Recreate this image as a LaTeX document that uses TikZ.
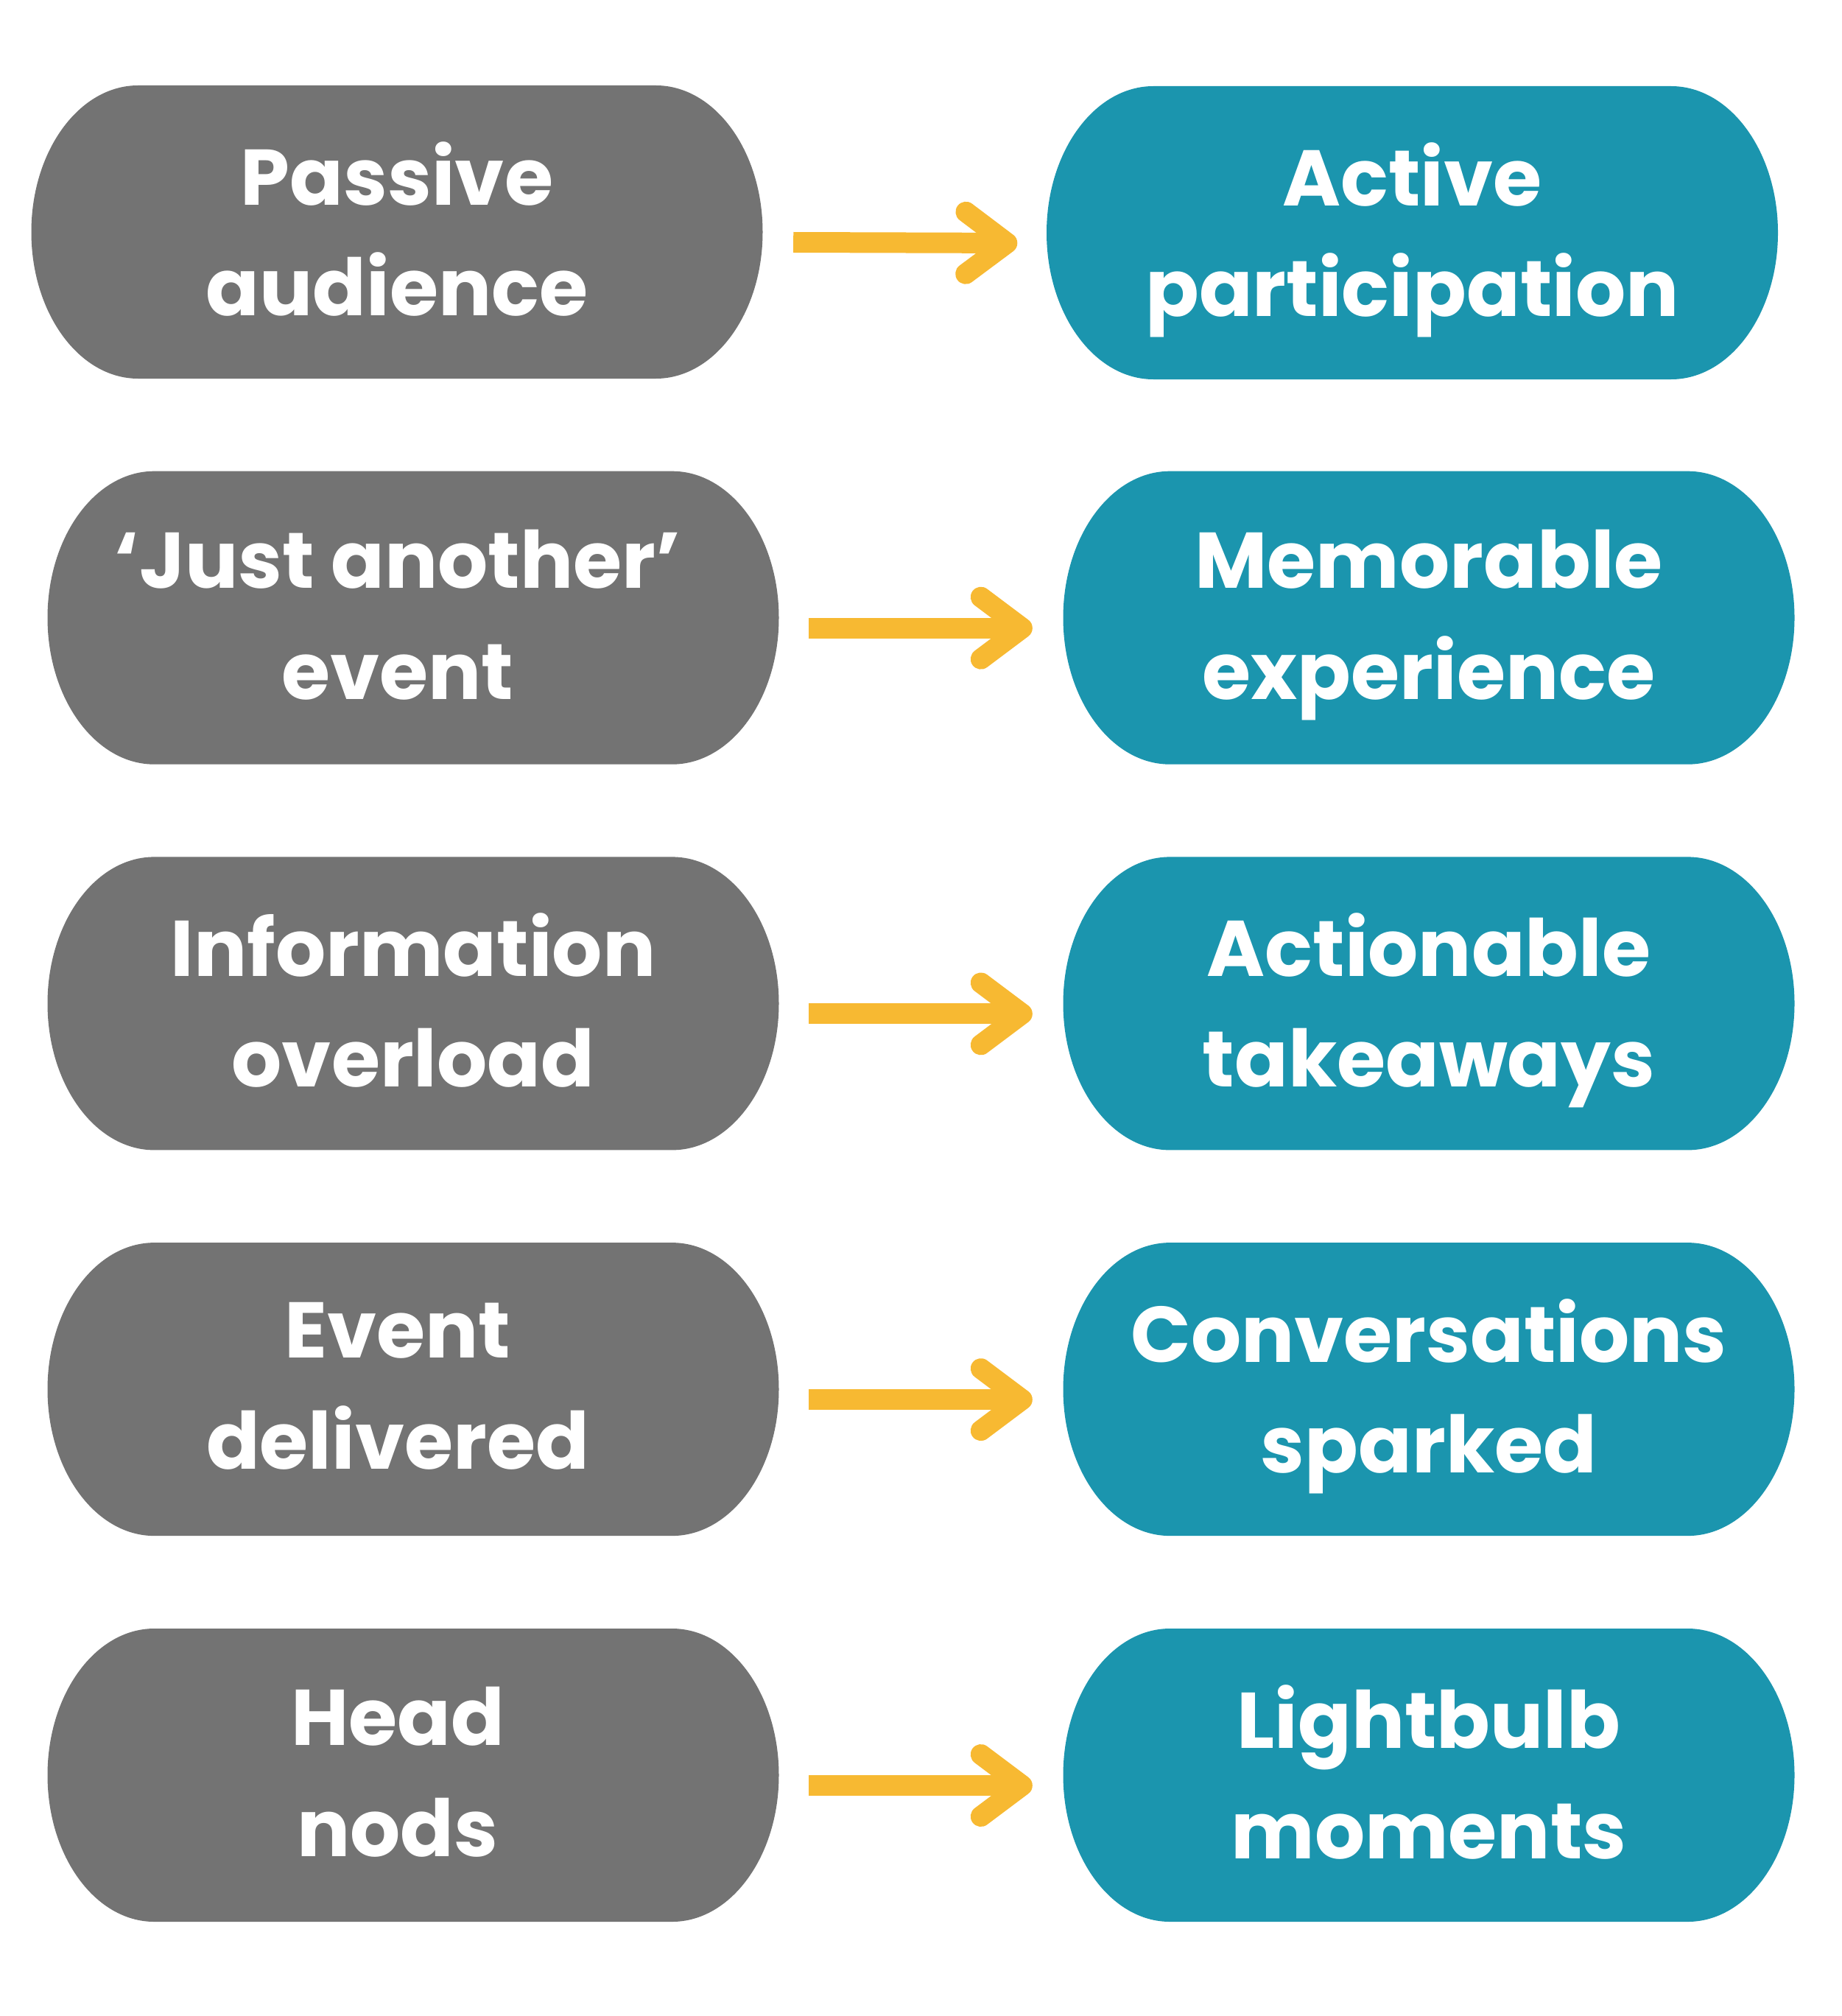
\documentclass[tikz,border=0pt]{standalone}
\usepackage{fontspec}
\setsansfont{Poppins}
\usepackage{tikz}
\usetikzlibrary{arrows.meta,positioning,calc}
\definecolor{boxgray}{HTML}{737373}
\definecolor{boxteal}{HTML}{1B95AE}
\definecolor{arrowyellow}{HTML}{F7B932}
\tikzset{
  pill/.style={fill=white, inner sep=0pt, minimum width=9.93cm, minimum height=3.98cm,
    path picture={\fill[#1] (path picture bounding box.west)
      arc[start angle=180, end angle=90, x radius=1.45cm, y radius=1.99cm]
      -- ([xshift=-1.45cm]path picture bounding box.north east)
      arc[start angle=90, end angle=-90, x radius=1.45cm, y radius=1.99cm]
      -- ([xshift=1.45cm]path picture bounding box.south west)
      arc[start angle=270, end angle=180, x radius=1.45cm, y radius=1.99cm] -- cycle;}},
  lbl/.style={text=white, align=center, inner sep=0pt, font=\sffamily\bfseries\fontsize{30.5}{42.8}\selectfont,
    execute at begin node=\strut, execute at end node=\strut},
  arrow/.style={-{Straight Barb[length=5.6mm,width=8.4mm,round]}, line width=2.8mm, draw=arrowyellow}
}
\begin{document}
\begin{tikzpicture}
\useasboundingbox (0,0) rectangle (25,-27.37);
% ---- left column ----
\node[pill=boxgray] (l1) at (5.39,-3.15) {};
\node[pill=boxgray] (l2) at (5.61,-8.387) {};
\node[pill=boxgray] (l3) at (5.61,-13.624) {};
\node[pill=boxgray] (l4) at (5.61,-18.861) {};
\node[pill=boxgray] (l5) at (5.61,-24.10) {};
\node[lbl] (l1t) at ([yshift=-1.8mm]l1.center) {Passive\\audience};
\node[lbl] (l2t) at ([shift={(-0.21,-0.18)}]l2.center) {‘Just another’\\event};
\node[lbl] (l3t) at ([yshift=-1.8mm]l3.center) {Information\\overload};
\node[lbl] (l4t) at ([shift={(-0.21,-0.18)}]l4.center) {Event\\delivered};
\node[lbl] (l5t) at ([shift={(-0.21,-0.18)}]l5.center) {Head\\nods};
% ---- right column ----
\node[pill=boxteal] (r1) at (19.175,-3.16) {};
\node[pill=boxteal] (r2) at (19.40,-8.387) {};
\node[pill=boxteal] (r3) at (19.40,-13.624) {};
\node[pill=boxteal] (r4) at (19.40,-18.861) {};
\node[pill=boxteal] (r5) at (19.40,-24.10) {};
\node[lbl] (r1t) at ([yshift=-1.8mm]r1.center) {Active\\participation};
\node[lbl] (r2t) at ([yshift=-1.8mm]r2.center) {Memorable\\experience};
\node[lbl] (r3t) at ([yshift=-1.8mm]r3.center) {Actionable\\takeaways};
\node[lbl] (r4t) at ([yshift=-1.8mm]r4.center) {Conversations\\sparked};
\node[lbl] (r5t) at ([yshift=-1.8mm]r5.center) {Lightbulb\\moments};
% ---- arrows ----
\draw[arrow] ([shift={(0.41,-0.14)}]l1.east) -- ([shift={(-0.39,-0.14)}]r1.west);
\draw[arrow] ([shift={(0.40,-0.14)}]l2.east) -- ([shift={(-0.41,-0.14)}]r2.west);
\draw[arrow] ([shift={(0.40,-0.14)}]l3.east) -- ([shift={(-0.41,-0.14)}]r3.west);
\draw[arrow] ([shift={(0.40,-0.14)}]l4.east) -- ([shift={(-0.41,-0.14)}]r4.west);
\draw[arrow] ([shift={(0.40,-0.14)}]l5.east) -- ([shift={(-0.41,-0.14)}]r5.west);
\end{tikzpicture}
\end{document}
